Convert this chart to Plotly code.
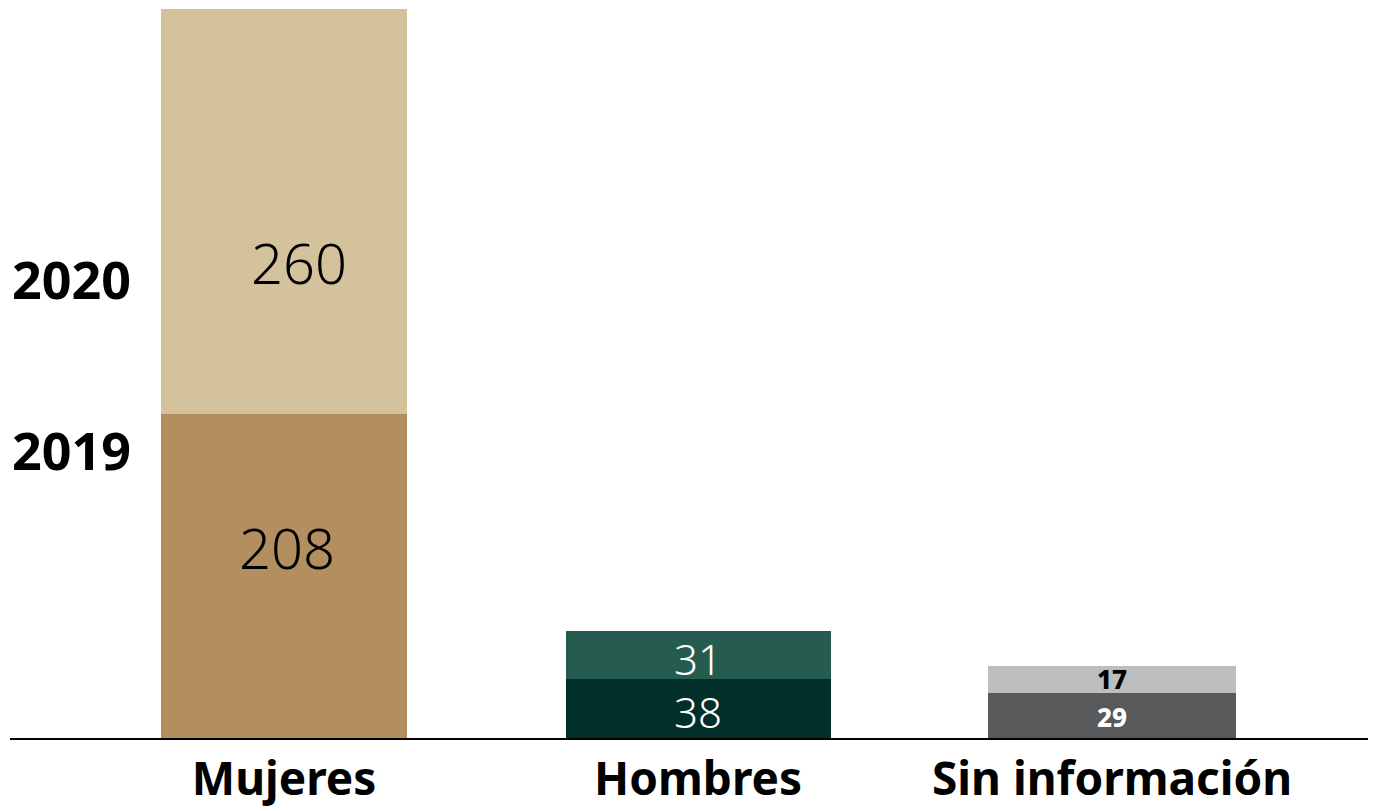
import plotly.graph_objects as go

categories = ["Mujeres", "Hombres", "Sin información"]
values_2019 = [208, 38, 29]
values_2020 = [260, 31, 17]
years = ["2019", "2020"]

colors_2019 = ["#B38F5F", "#022F29", "#58595B"]
colors_2020 = ["#D3C29C", "#265C4F", "#BCBDBF"]
bar_widths = [0.595, 0.64, 0.6]

label_sizes = [56, 42, 26]
label_weights = [300, 300, 800]
label_colors_2019 = ["#000000", "#FFFFFF", "#FFFFFF"]
label_colors_2020 = ["#000000", "#FFFFFF", "#000000"]
# pixel nudges of the value labels relative to segment centers
shift_2019 = [(3, 29), (0, -3), (0, -2)]
shift_2020 = [(15, -50), (0, -4), (0, 1)]

FONT = "Noto Sans"

fig = go.Figure()
fig.add_trace(go.Bar(x=categories, y=values_2019, name=years[0],
                     marker=dict(color=colors_2019, line=dict(width=0)),
                     width=bar_widths, showlegend=False))
fig.add_trace(go.Bar(x=categories, y=values_2020, name=years[1],
                     marker=dict(color=colors_2020, line=dict(width=0)),
                     width=bar_widths, showlegend=False))

annotations = []
for i, c in enumerate(categories):
    annotations.append(dict(x=c, y=values_2019[i] / 2, xref="x", yref="y",
                            xshift=shift_2019[i][0], yshift=shift_2019[i][1],
                            text=str(values_2019[i]), showarrow=False,
                            font=dict(family=FONT, size=label_sizes[i],
                                      color=label_colors_2019[i],
                                      weight=label_weights[i])))
    annotations.append(dict(x=c, y=values_2019[i] + values_2020[i] / 2,
                            xref="x", yref="y",
                            xshift=shift_2020[i][0], yshift=shift_2020[i][1],
                            text=str(values_2020[i]), showarrow=False,
                            font=dict(family=FONT, size=label_sizes[i],
                                      color=label_colors_2020[i],
                                      weight=label_weights[i])))

# Year labels on the left, aligned with the first category's segments
annotations.append(dict(x=0, xref="paper", xanchor="left", y=values_2019[0] + values_2020[0] * 0.33,
                        yref="y", yshift=2, text="<b>" + years[1] + "</b>", showarrow=False,
                        font=dict(family=FONT, size=52, color="#000000", weight=800)))
annotations.append(dict(x=0, xref="paper", xanchor="left", y=values_2019[0] * 0.89,
                        yref="y", yshift=0, text="<b>" + years[0] + "</b>", showarrow=False,
                        font=dict(family=FONT, size=52, color="#000000", weight=800)))

fig.update_layout(
    barmode="stack",
    width=1362, height=803,
    margin=dict(l=2, r=2, t=1, b=73, autoexpand=False),
    paper_bgcolor="white", plot_bgcolor="white",
    annotations=annotations,
    xaxis=dict(range=[-0.662, 2.618], showline=True, linecolor="#000000",
               linewidth=2, ticks="", showgrid=False, zeroline=False,
               automargin=False,
               tickfont=dict(family=FONT, size=46, color="#000000", weight=700)),
    yaxis=dict(range=[0, 468], visible=False, showgrid=False, zeroline=False),
)

fig.write_html("out.html")
